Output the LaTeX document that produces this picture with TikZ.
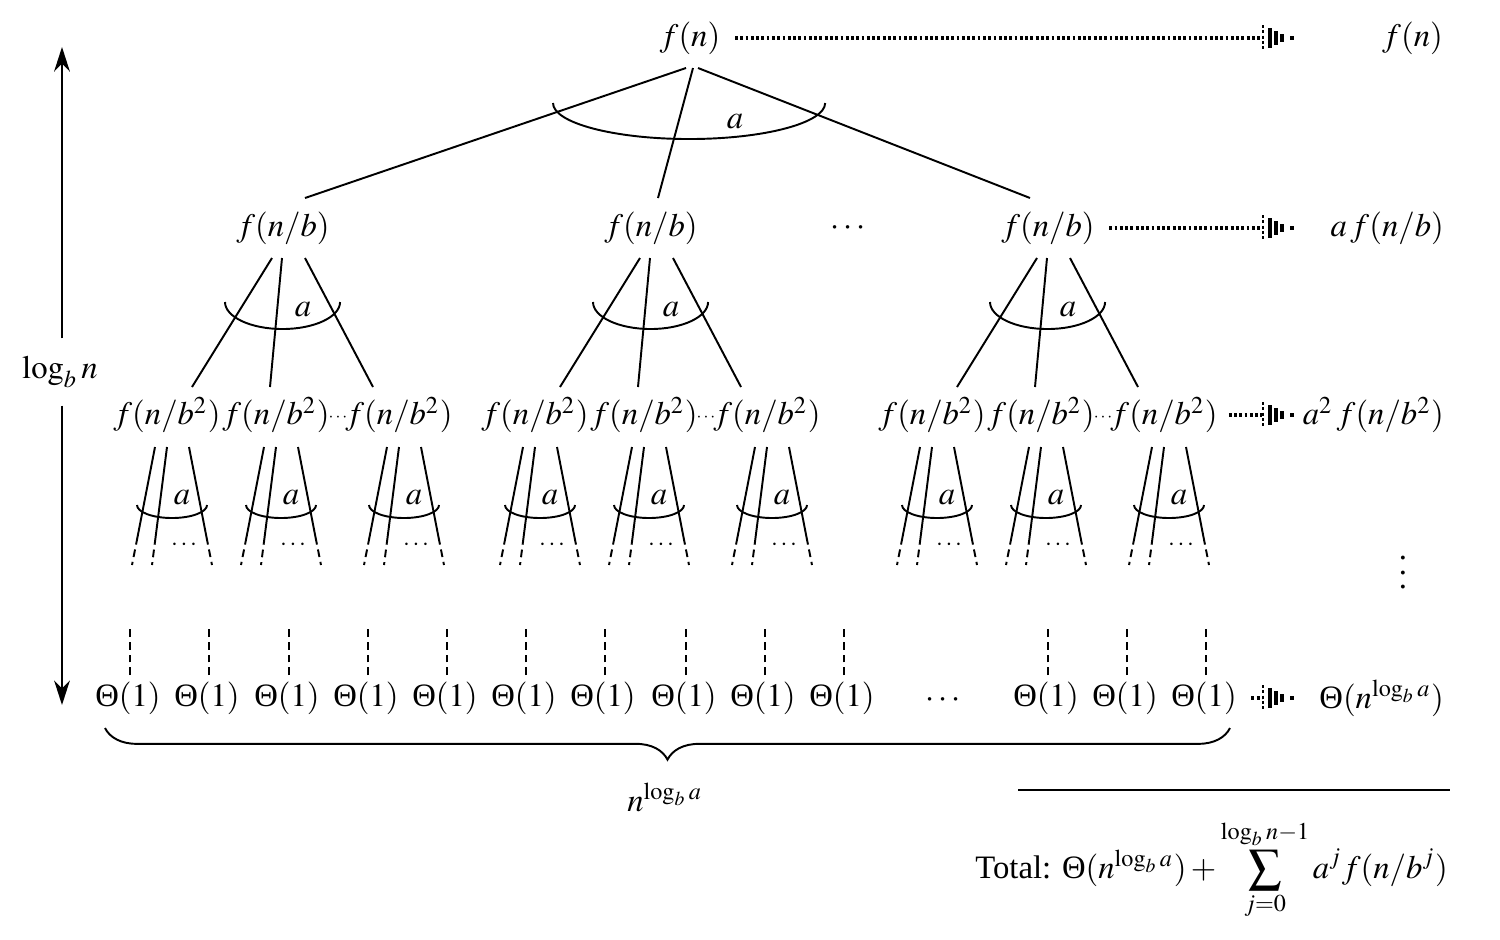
\documentclass[tikz,border=0pt]{standalone}
\usepackage{mathptmx}
\usepackage[no-math]{fontspec}
\setmainfont{Liberation Serif}
\usetikzlibrary{calc, positioning, arrows.meta, decorations.pathreplacing}

\newcommand{\Th}{\textrm{Θ}}
\tikzset{
  term/.style={inner sep=1pt, font=\fontsize{9.3}{11}\selectfont},
  small/.style={inner sep=0pt, font=\fontsize{7}{8}\selectfont},
  tiny dots/.style={inner sep=0pt, font=\fontsize{5}{6}\selectfont},
  edge/.style={line width=0.55pt},
  leg/.style={line width=0.55pt, dash pattern=on 2.2pt off 1.4pt},
  dotline/.style={line width=1.4pt, dash pattern=on 0.8pt off 0.7pt, shorten <=3pt},
}
%punta tratteggiata
\newcommand{\dothead}[1]{%
  \draw[line width=0.8pt, dash pattern=on 0.9pt off 0.6pt] ($(#1)+(1,-13)$) -- ($(#1)+(1,13)$);
  \foreach \dx/\h in {8/10, 14/7, 20/4}
    \draw[line width=1.3pt] ($(#1)+(\dx,-\h)$) -- ($(#1)+(\dx,\h)$);
  \draw[line width=1.2pt] ($(#1)+(28,0)$) -- ($(#1)+(32,0)$);
}

\begin{document}
\begin{tikzpicture}[x=0.01cm, y=-0.01cm]
    \useasboundingbox (0,0) rectangle (1500,939);
    %radice
    \node[term] (root) at (690,38) {$f(n)$};
    %primo livello
    \node[term] (l1a) at (283,228) {$f(n/b)$};
    \node[term] (l1b) at (651,228) {$f(n/b)$};
    \node[term] (l1dots) at (848,228) {$\cdots$};
    \node[term] (l1c) at (1048,228) {$f(n/b)$};
    %rami della radice
    \draw[edge] ($(root)+(-4,30)$) -- ($(l1a)+(22,-30)$);
    \draw[edge] ($(root)+(3,30)$) -- ($(l1b)+(7,-30)$);
    \draw[edge] ($(root)+(8,30)$) -- ($(l1c)+(-18,-30)$);
    \draw[edge] ($(root)+(-137,65)$) arc[start angle=180, end angle=360, x radius=1.36cm, y radius=0.36cm];
    \node[term] (a0) at ($(root)+(45,84)$) {$a$};
    %secondo livello
    \foreach \g in {a,b,c} {
      \node[term, inner sep=0pt] (l2\g1) at ($(l1\g)+(-116,187)$) {$f(n/b^2)$};
      \node[term, inner sep=0pt] (l2\g2) at ($(l1\g)+(-7,187)$) {$f(n/b^2)$};
      \node[term, inner sep=0pt] (l2\g3) at ($(l1\g)+(116,187)$) {$f(n/b^2)$};
      \node[tiny dots] (d2\g) at ($(l1\g)+(55,190)$) {$\cdots$};
      \draw[edge] ($(l1\g)+(-11,30)$) -- ($(l2\g1)+(25,-28)$);
      \draw[edge] ($(l1\g)+(-1,30)$) -- ($(l2\g2)+(-6,-28)$);
      \draw[edge] ($(l1\g)+(22,30)$) -- ($(l2\g3)+(-26,-28)$);
      \draw[edge] ($(l1\g)+(-58,74)$) arc[start angle=180, end angle=360, x radius=0.575cm, y radius=0.27cm];
      \node[term] (a1\g) at ($(l1\g)+(20,82)$) {$a$};
    }
    %terzo livello
    \foreach \n in {l2a1,l2a2,l2a3,l2b1,l2b2,l2b3,l2c1,l2c2,l2c3} {
      \foreach \top/\bot in {-12/-35, 0/-15, 22/45} {
        \draw[edge] ($(\n)+(\top,32)$) -- ($(\n)+({\top+0.76*(\bot-\top)},122)$);
        \draw[leg] ($(\n)+({\top+0.76*(\bot-\top)},122)$) -- ($(\n)+(\bot,150)$);
      }
      \draw[edge] ($(\n)+(-30,90)$) arc[start angle=180, end angle=360, x radius=0.35cm, y radius=0.13cm];
      \node[term] (a\n) at ($(\n)+(15,83)$) {$a$};
      \node[small] (d\n) at ($(\n)+(17,130)$) {$\cdots$};
    }
    %foglie
    \foreach \x [count=\i] in {128,207,287,366,445,524,603,684,763,842,1046,1125,1204} {
      \node[term] (t\i) at (\x,698) {$\Th(1)$};
      \draw[leg] ($(t\i)+(2,-23)$) -- ++(0,-50);
    }
    \node[term] (tdots) at (943,700) {$\cdots$};
    %colonna destra
    \node[term, anchor=east] (s0) at (1447,38) {$f(n)$};
    \node[term, anchor=east] (s1) at (1448,228) {$a\,f(n/b)$};
    \node[term, anchor=east] (s2) at (1448,415) {$a^2\,f(n/b^2)$};
    \node[term] (s3) at (1403,562) {$\vdots$};
    \node[term, anchor=east] (s4) at (1448,698) {$\Th(n^{\log_b a})$};
    %frecce puntinate
    \foreach \from/\y [count=\i] in {root/38, l1c/228, l2c3/415, t13/698} {
      \coordinate (h\i) at (1262,\y);
      \draw[dotline] (\from.east) -- (h\i);
      \dothead{h\i}
    }
    %altezza
    \node[term, inner sep=5pt] (lg) at (60,372) {$\log_b n$};
    \coordinate (up) at (62,47);
    \coordinate (dn) at (62,705);
    \draw[edge, -{Stealth[length=7pt, width=4.5pt]}] (lg.north -| up) -- (up);
    \draw[edge, -{Stealth[length=7pt, width=4.5pt]}] (lg.south -| dn) -- (dn);
    %graffa
    \coordinate (bl) at (105,728);
    \coordinate (br) at (1230,728);
    \draw[edge, decorate, decoration={brace, mirror, amplitude=9pt}] (bl) -- (br);
    \node[term] (nl) at (665,797) {$n^{\log_b a}$};
    %totale
    \coordinate (rl) at (1018,790);
    \coordinate (rr) at (1450,790);
    \draw[edge] (rl) -- (rr);
    \node[term, anchor=east] (total) at (1452,870) {Total: $\Th(n^{\log_b a}) + \displaystyle\sum_{j=0}^{\log_b n-1} a^j f(n/b^j)$};
\end{tikzpicture}
\end{document}
